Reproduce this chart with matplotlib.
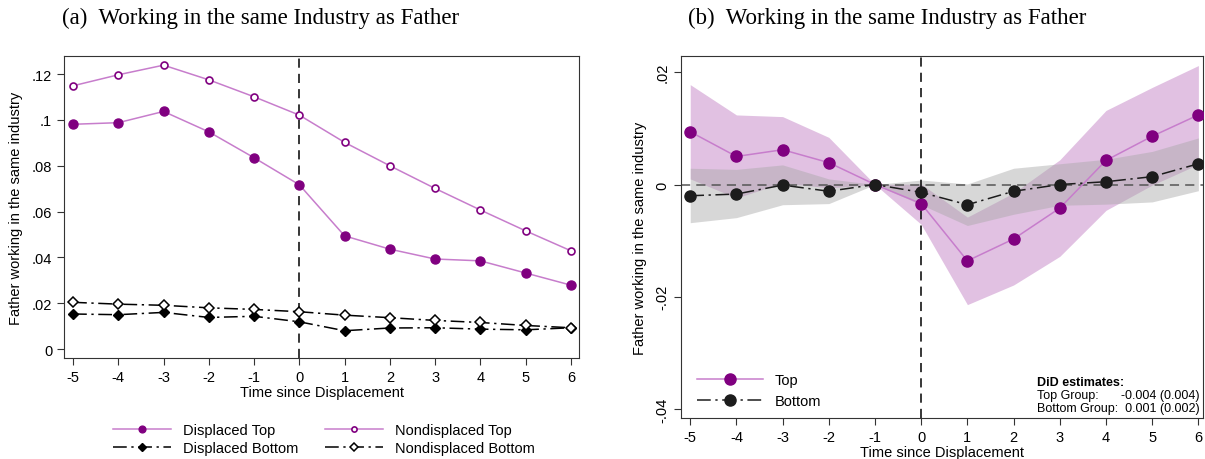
import matplotlib
matplotlib.use("Agg")
import matplotlib.pyplot as plt
import numpy as np

# event time
t = [-5, -4, -3, -2, -1, 0, 1, 2, 3, 4, 5, 6]

# panel (a): raw shares
disp_top = [0.0981, 0.0988, 0.1037, 0.0948, 0.0835, 0.0717, 0.0494, 0.0436, 0.0393, 0.0385, 0.0332, 0.0279]
nondisp_top = [0.1149, 0.1197, 0.1239, 0.1175, 0.1101, 0.1021, 0.0902, 0.0800, 0.0701, 0.0607, 0.0516, 0.0429]
disp_bottom = [0.0153, 0.0150, 0.0160, 0.0138, 0.0143, 0.0119, 0.0080, 0.0092, 0.0093, 0.0087, 0.0084, 0.0093]
nondisp_bottom = [0.0204, 0.0196, 0.0191, 0.0180, 0.0173, 0.0163, 0.0148, 0.0137, 0.0125, 0.0116, 0.0103, 0.0093]

# panel (b): event study estimates with CIs
top_est = [0.0094, 0.0050, 0.0062, 0.0039, 0.0, -0.0034, -0.0136, -0.0097, -0.0042, 0.0043, 0.0086, 0.0124]
top_hi = [0.0178, 0.0124, 0.0121, 0.0084, 0.0, 0.0001, -0.0058, -0.0015, 0.0044, 0.0132, 0.0173, 0.0212]
top_lo = [0.0010, -0.0024, 0.0003, -0.0006, 0.0, -0.0071, -0.0214, -0.0179, -0.0128, -0.0046, -0.0001, 0.0036]
bot_est = [-0.0020, -0.0017, -0.0001, -0.0012, 0.0, -0.0014, -0.0036, -0.0012, 0.0, 0.0005, 0.0014, 0.0037]
bot_hi = [0.0029, 0.0027, 0.0035, 0.0010, 0.0, 0.0008, 0.0001, 0.0029, 0.0037, 0.0045, 0.0059, 0.0083]
bot_lo = [-0.0068, -0.0059, -0.0036, -0.0034, 0.0, -0.0036, -0.0073, -0.0053, -0.0037, -0.0035, -0.0031, -0.0011]

PURPLE = "#800080"
LPURPLE = "#c77dcc"
DARK = "#1c1c1c"
DASHDOT = (0, (9, 3, 1.5, 3))
SERIF = ["Liberation Serif", "DejaVu Serif"]

plt.rcParams["font.family"] = ["Liberation Sans", "DejaVu Sans"]

fig = plt.figure(figsize=(12.05, 4.6), dpi=100)
W, H = 1205, 460

def place(l, r, top, bot):
    return fig.add_axes([l / W, 1 - bot / H, (r - l) / W, (bot - top) / H])

# ---------------- panel (a)
ax = place(64, 579, 57, 359)
h1, = ax.plot(t, disp_top, color=LPURPLE, lw=1.1, marker="o", ms=6.5, mfc=PURPLE, mec=PURPLE, label="Displaced Top")
h2, = ax.plot(t, nondisp_top, color=LPURPLE, lw=1.1, marker="o", ms=5, mfc="white", mec=PURPLE, mew=1.2, label="Nondisplaced Top")
h3, = ax.plot(t, disp_bottom, color="black", lw=1.1, ls=DASHDOT, marker="D", ms=5, mfc="black", mec="black", label="Displaced Bottom")
h4, = ax.plot(t, nondisp_bottom, color="black", lw=1.1, ls=DASHDOT, marker="D", ms=5, mfc="white", mec="black", mew=1.1, label="Nondisplaced Bottom")
ax.axvline(0, color="black", lw=1.1, ls=(0, (6, 4)), zorder=0)
ax.set_xlim(-5.2, 6.18)
ax.set_ylim(-0.0039, 0.1279)
ax.set_xticks(t)
ax.set_xticklabels([str(v) for v in t])
ax.set_yticks([0, 0.02, 0.04, 0.06, 0.08, 0.1, 0.12])
ax.set_yticklabels(["0", ".02", ".04", ".06", ".08", ".1", ".12"])
ax.tick_params(labelsize=10.5, length=5, color="#333333")
ax.set_xlabel("Time since Displacement", fontsize=10.5, labelpad=1)
ax.set_ylabel("Father working in the same industry", fontsize=10.5, labelpad=6)
for s in ax.spines.values():
    s.set_color("#333333")
ax.legend([h1, h3, h2, h4], [h.get_label() for h in (h1, h3, h2, h4)],
          loc="upper left", bbox_to_anchor=(100 / W, 1 - 411 / H), bbox_transform=fig.transFigure,
          ncol=2, frameon=False, fontsize=10.5, handlelength=4, columnspacing=1.8,
          labelspacing=0.3, handletextpad=0.8, markerscale=0.75)
fig.text(62 / W, 1 - 18 / H, "(a)  Working in the same Industry as Father", ha="left", va="center",
         fontsize=16.5, family=SERIF)

# ---------------- panel (b)
bx = place(681, 1203, 57, 419)
bx.fill_between(t, top_lo, top_hi, color="#c98fcb", alpha=0.55, lw=0)
bx.fill_between(t, bot_lo, bot_hi, color="#a8a8a8", alpha=0.45, lw=0)
bx.axhline(0, color="#555555", lw=1.1, ls=(0, (6, 4)), zorder=1)
bx.axvline(0, color="black", lw=1.1, ls=(0, (6, 4)), zorder=1)
bx.plot(t, top_est, color=LPURPLE, lw=1.1, marker="o", ms=8, mfc=PURPLE, mec=PURPLE, label="Top", zorder=3)
bx.plot(t, bot_est, color=DARK, lw=1.1, ls=DASHDOT, marker="o", ms=8, mfc=DARK, mec=DARK, label="Bottom", zorder=3)
bx.set_xlim(-5.2, 6.1)
bx.set_ylim(-0.0416, 0.0229)
bx.set_xticks(t)
bx.set_xticklabels([str(v) for v in t])
bx.set_yticks([-0.04, -0.02, 0, 0.02])
bx.set_yticklabels(["-.04", "-.02", "0", ".02"], rotation=90, va="center")
bx.tick_params(labelsize=10.5, length=5, color="#333333")
bx.set_xlabel("Time since Displacement", fontsize=10.5, labelpad=1)
bx.set_ylabel("Father working in the same industry", fontsize=10.5, labelpad=6)
for s in bx.spines.values():
    s.set_color("#333333")
bx.legend(loc="upper left", bbox_to_anchor=(684 / W, 1 - 361 / H), bbox_transform=fig.transFigure,
          frameon=False, fontsize=10.5, handlelength=4.5, labelspacing=0.45, handletextpad=0.8)
fig.text(1037 / W, 1 - 383 / H, "DiD estimates:", fontsize=9, fontweight="bold", va="center")
fig.text(1037 / W, 1 - 396 / H, "Top Group:", fontsize=9, va="center")
fig.text(1121 / W, 1 - 396 / H, "-0.004 (0.004)", fontsize=9, va="center")
fig.text(1037 / W, 1 - 409 / H, "Bottom Group:  0.001 (0.002)", fontsize=9, va="center")
fig.text(688 / W, 1 - 18 / H, "(b)  Working in the same Industry as Father", ha="left", va="center",
         fontsize=16.5, family=SERIF)

fig.savefig("out.png", dpi=100)
